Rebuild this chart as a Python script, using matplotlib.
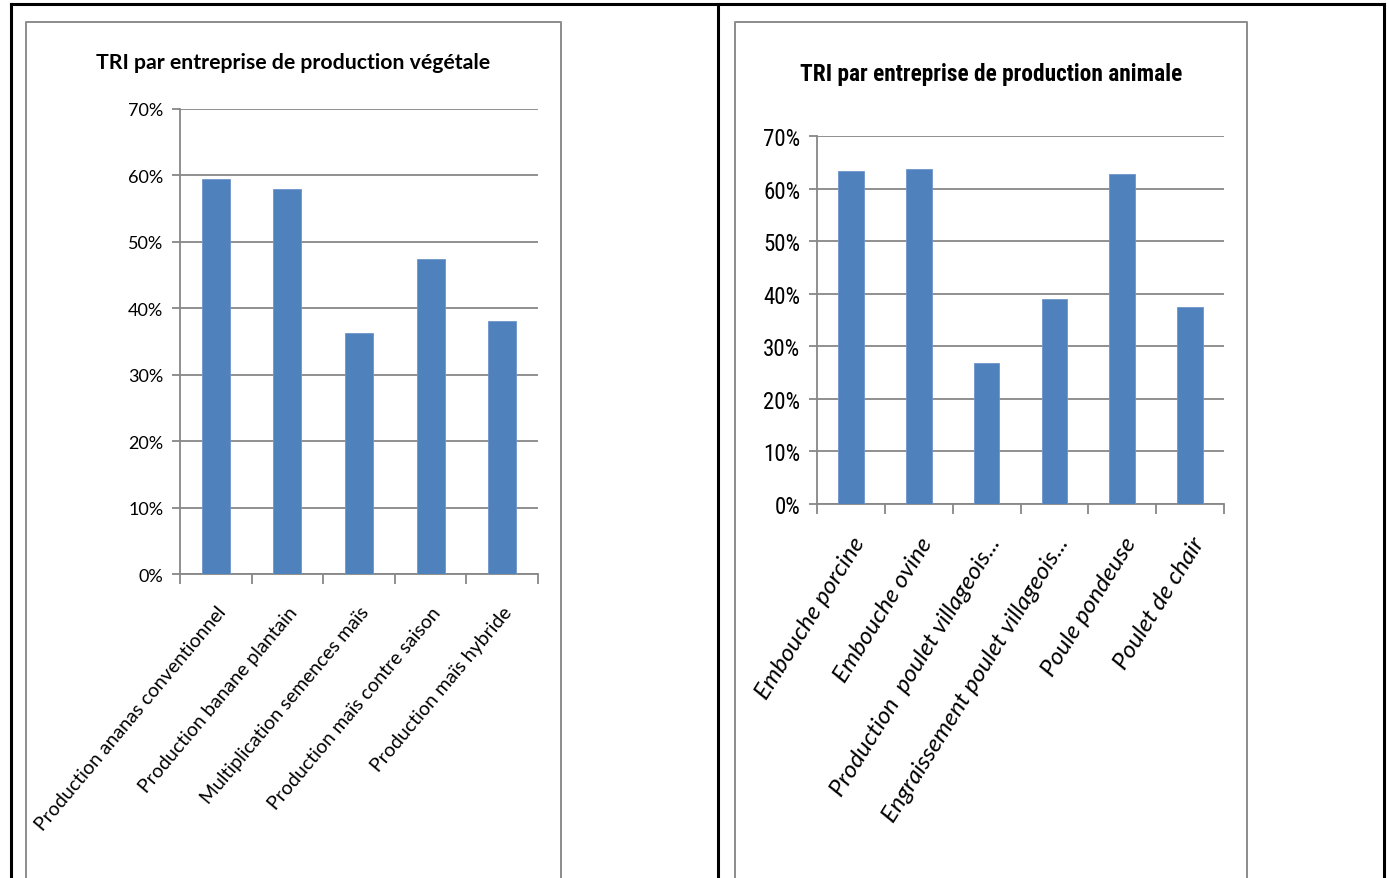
import matplotlib
matplotlib.use('Agg')
import matplotlib.pyplot as plt
from matplotlib.lines import Line2D
import numpy as np

# TRI par entreprise - production végétale
veg_labels = ['Production ananas conventionnel', 'Production banane plantain',
              'Multiplication semences maïs', 'Production maïs contre saison',
              'Production maïs hybride']
veg_tri = [0.595, 0.580, 0.363, 0.474, 0.381]

# TRI par entreprise - production animale
ani_labels = ['Embouche porcine', 'Embouche ovine', 'Production  poulet villageois...',
              'Engraissement poulet villageois...', 'Poule pondeuse', 'Poulet de chair']
ani_tri = [0.633, 0.637, 0.268, 0.390, 0.628, 0.375]

yticks = np.arange(0, 0.71, 0.1)
ytick_labels = ['%d%%' % round(v * 100) for v in yticks]

BAR = '#4f81bd'
GRID = '#878787'
W, H = 1389, 879
REG = ['Lato', 'DejaVu Sans']
NARROW = ['Roboto Condensed', 'Lato', 'DejaVu Sans']

fig = plt.figure(figsize=(W / 100, H / 100), dpi=100)


def px_axes(x0, y0, x1, y1):
    # axes from pixel box (top-left origin)
    return fig.add_axes([x0 / W, 1 - y1 / H, (x1 - x0) / W, (y1 - y0) / H])


def px_line(xs, ys, color, lw):
    fig.add_artist(Line2D([x / W for x in xs], [1 - y / H for y in ys],
                          color=color, lw=lw, transform=fig.transFigure))


def bar_chart(ax, labels, values, width, rot, lab_font, lab_size, pad, italic):
    n = len(values)
    x = np.arange(n)
    ax.bar(x, values, width=width, color=BAR, edgecolor='#6d95c9', linewidth=0.6, zorder=3)
    ax.set_xlim(-0.5, n - 0.5)
    ax.set_ylim(0, 0.7)
    ax.set_yticks(yticks)
    ax.set_yticklabels(ytick_labels)
    ax.yaxis.grid(True, color=GRID, lw=1.3, zorder=0)
    ax.set_axisbelow(True)
    for s in ['top', 'right']:
        ax.spines[s].set_visible(False)
    for s in ['left', 'bottom']:
        ax.spines[s].set_color(GRID)
        ax.spines[s].set_linewidth(1.3)
    ax.tick_params(axis='y', length=6, width=1.3, color=GRID, pad=6)
    ax.set_xticks(x)
    ax.set_xticklabels(labels, rotation=rot, ha='right', rotation_mode='anchor',
                       fontsize=lab_size, family=lab_font,
                       style='italic' if italic else 'normal')
    ax.tick_params(axis='x', length=0, pad=pad)
    ax.set_xticks(np.arange(n + 1) - 0.5, minor=True)
    ax.tick_params(axis='x', which='minor', length=7, width=1.3, color=GRID)


# outer table borders
px_line([11, 11], [885, 5], 'black', 2.2)
px_line([11, 1384], [5, 5], 'black', 2.2)
px_line([718, 718], [885, 5], 'black', 2.2)
px_line([1384, 1384], [885, 5], 'black', 2.2)

# chart frames
px_line([26, 26, 561, 561], [885, 23, 23, 885], '#8c8c8c', 1.4)
px_line([735, 735, 1247, 1247], [885, 23, 23, 885], '#8c8c8c', 1.4)

ax1 = px_axes(180, 110, 538, 575)
bar_chart(ax1, veg_labels, veg_tri, 0.39, 50, REG, 14, 21, False)
for t in ax1.get_yticklabels():
    t.set_fontsize(13)
    t.set_family(REG)
fig.text(293 / W, 1 - 63 / H, 'TRI par entreprise de production végétale',
         ha='center', va='center', fontsize=15.3, fontweight='bold', family=REG)

ax2 = px_axes(817, 137, 1224, 505)
bar_chart(ax2, ani_labels, ani_tri, 0.38, 58, REG, 17.5, 21, True)
for t in ax2.get_yticklabels():
    t.set_fontsize(16.5)
    t.set_family(NARROW)
fig.text(991 / W, 1 - 75 / H, 'TRI par entreprise de production animale',
         ha='center', va='center', fontsize=16.8, fontweight='bold', family=NARROW)

fig.savefig('out.png', dpi=100)
